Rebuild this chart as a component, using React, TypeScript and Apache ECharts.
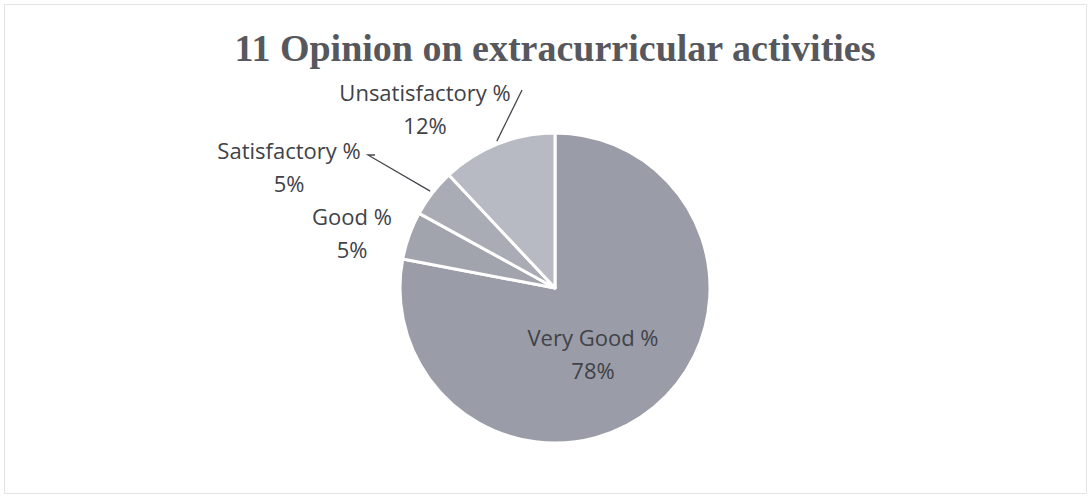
import React, { useEffect, useRef } from "react";
import * as echarts from "echarts";

const categories = ["Very Good %", "Good %", "Satisfactory %", "Unsatisfactory %"];
const values = [78, 5, 5, 12];
const colors = ["#9a9da7", "#a1a4ad", "#a9acb5", "#b7bac2"];
const titleText = "11 Opinion on extracurricular activities";

const CX = 555;
const CY = 288;
const R = 155;

// label anchor positions (pixel) per slice
const labelPos: [number, number][] = [
  [593, 353],
  [352, 232],
  [289, 166],
  [425, 108],
];

// leader-line end offsets relative to label anchor (null = no line)
const leaderEnd: ([number, number][] | null)[] = [
  null,
  null,
  [[79, -11], [86, -11]],
  [[97, -18]],
];

export default function App() {
  const ref = useRef<HTMLDivElement>(null);
  useEffect(() => {
    if (!ref.current) return;
    const chart = echarts.init(ref.current, null, { renderer: "svg" });

    const total = values.reduce((a, b) => a + b, 0);
    const lines: any[] = [];
    let acc = 0;
    values.forEach((v, i) => {
      const mid = ((acc + v / 2) / total) * Math.PI * 2;
      acc += v;
      const ends = leaderEnd[i];
      if (!ends) return;
      const sx = CX + (R + 3) * Math.sin(mid);
      const sy = CY - (R + 3) * Math.cos(mid);
      const pts: number[][] = [[sx, sy]];
      ends.forEach((o) => pts.push([labelPos[i][0] + o[0], labelPos[i][1] + o[1]]));
      pts.reverse();
      lines.push({
        type: "polyline",
        shape: { points: pts },
        style: { fill: "none", stroke: "#45474d", lineWidth: 1.3 },
        silent: true,
        z: 10,
      });
    });

    chart.setOption({
      animation: false,
      backgroundColor: "#ffffff",
      title: {
        text: titleText,
        left: 550,
        top: 24,
        textAlign: "center",
        textStyle: {
          fontFamily: "'Liberation Serif', 'Times New Roman', serif",
          fontWeight: "bold",
          fontSize: 38,
          color: "#56585e",
        },
      },
      graphic: [
        {
          type: "rect",
          shape: { x: 4.5, y: 4.5, width: 1082, height: 489 },
          style: { fill: "none", stroke: "#e4e4e4", lineWidth: 1 },
          silent: true,
        },
        ...lines,
      ],
      series: [
        {
          type: "pie",
          center: [CX, CY],
          radius: R,
          startAngle: 90,
          clockwise: true,
          avoidLabelOverlap: false,
          itemStyle: { borderColor: "#ffffff", borderWidth: 3 },
          data: categories.map((name, i) => ({
            name,
            value: values[i],
            itemStyle: { color: colors[i] },
          })),
          label: {
            show: true,
            position: "outside",
            formatter: "{b}\n{c}%",
            fontFamily: "'Open Sans', 'Noto Sans', sans-serif",
            fontSize: 22,
            lineHeight: 33,
            color: "#404248",
            align: "center",
          },
          labelLine: { show: false },
          labelLayout: (params: any) => {
            const p = labelPos[params.dataIndex];
            return {
              x: p[0],
              y: p[1],
              align: "center",
              verticalAlign: "middle",
            };
          },
        },
      ],
    });
    return () => chart.dispose();
  }, []);
  return (
    <div
      ref={ref}
      style={{ position: "fixed", left: 0, top: 0, width: 1091, height: 498 }}
    />
  );
}
